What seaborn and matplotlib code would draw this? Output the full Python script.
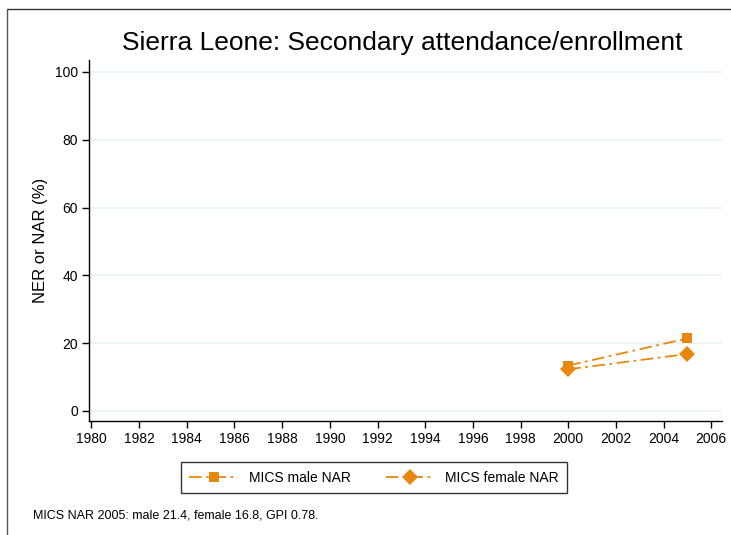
import pandas as pd
import numpy as np
import seaborn as sns
import matplotlib.pyplot as plt
from matplotlib.lines import Line2D

years = [2000, 2005]
male_nar = [13.4, 21.4]
female_nar = [12.3, 16.8]
series_names = ['MICS male NAR', 'MICS female NAR']
x_ticks = list(range(1980, 2007, 2))
y_ticks = [0, 20, 40, 60, 80, 100]

df = pd.DataFrame({
    'year': years * 2,
    'value': male_nar + female_nar,
    'series': [series_names[0]] * 2 + [series_names[1]] * 2,
})

sns.set_theme(style='white')
plt.rcParams['font.family'] = ['Liberation Sans', 'DejaVu Sans']
plt.rcParams['text.color'] = 'black'
plt.rcParams['axes.labelcolor'] = 'black'

orange = '#e8870e'
fig = plt.figure(figsize=(7.31, 5.35), dpi=100)
ax = fig.add_axes([0.1218, 0.2131, 0.8659, 0.6748])

# outer frame (only top and left edges visible in the image)
fig.add_artist(Line2D([6.5 / 731, 1.0], [1 - 8.5 / 535] * 2, transform=fig.transFigure,
                      color='#333333', linewidth=1.0))
fig.add_artist(Line2D([6.5 / 731] * 2, [0.0, 1 - 8.5 / 535], transform=fig.transFigure,
                      color='#555555', linewidth=1.0))

markers = {series_names[0]: 's', series_names[1]: 'D'}
for name in series_names:
    sub = df[df['series'] == name]
    sns.lineplot(data=sub, x='year', y='value', ax=ax, color=orange,
                 marker=markers[name], markersize=7.5 if name == series_names[0] else 8,
                 markeredgewidth=0, linewidth=1.3, label=name)
for line in ax.get_lines():
    line.set_dashes([7, 2.5, 1.5, 2.5])

ax.set_xlim(1979.9, 2006.45)
ax.set_ylim(-2.95, 103.5)
ax.set_xticks(x_ticks)
ax.set_yticks(y_ticks)
ax.yaxis.grid(True, color='#eaf2f3', linewidth=1.2)
ax.xaxis.grid(False)
ax.set_axisbelow(True)
for s in ['top', 'right']:
    ax.spines[s].set_visible(False)
for s in ['left', 'bottom']:
    ax.spines[s].set_color('black')
    ax.spines[s].set_linewidth(1.0)
ax.tick_params(axis='both', which='major', direction='out', length=5, width=1,
               color='black', labelsize=10, labelcolor='black', bottom=True, left=True, pad=3)
ax.set_xlabel('')
ax.set_ylabel('NER or NAR (%)', fontsize=12, labelpad=5)

fig.text(0.55, 0.92, 'Sierra Leone: Secondary attendance/enrollment', ha='center',
         va='center', fontsize=19)

ax.get_legend().remove()
handles, labels = ax.get_legend_handles_labels()
leg = fig.legend(handles, labels, loc='center', bbox_to_anchor=(0.512, 0.107), ncol=2,
                 frameon=True, fancybox=False, fontsize=10, handlelength=3.5,
                 columnspacing=2.5, borderpad=0.6, edgecolor='black')
leg.get_frame().set_linewidth(1.0)

fig.text(0.045, 0.037, 'MICS NAR 2005: male 21.4, female 16.8, GPI 0.78.', fontsize=9,
         ha='left', va='center')

fig.savefig('out.png', dpi=100, facecolor='white')
